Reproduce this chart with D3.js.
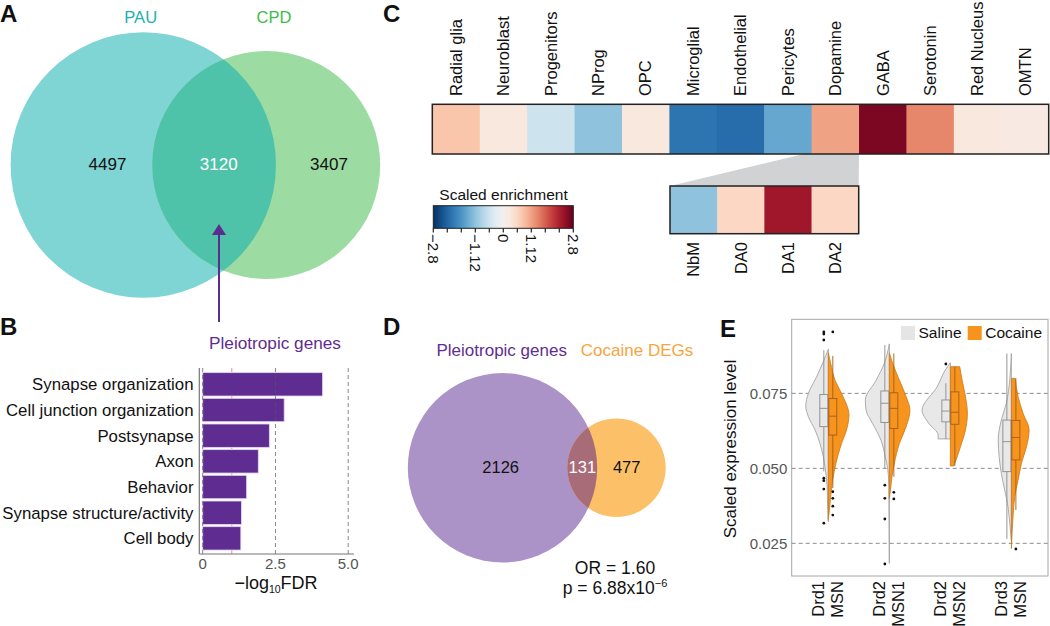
<!DOCTYPE html>
<html><head><meta charset="utf-8">
<script src="https://cdn.jsdelivr.net/npm/d3@7"></script>
<style>body{margin:0;background:#fff;} svg{display:block;font-family:"Liberation Sans",Arial,Helvetica,sans-serif;}</style>
</head><body><svg id="c" width="1050" height="626"></svg>
<script>
// ---------------- DATA ----------------
const vennASets = ["PAU", "CPD"];
const vennACounts = [4497, 3120, 3407];           // PAU only, both, CPD only
const arrowLabel = "Pleiotropic genes";

const goTerms = ["Synapse organization", "Cell junction organization", "Postsynapse", "Axon",
                 "Behavior", "Synapse structure/activity", "Cell body"];
const goValues = [4.12, 2.80, 2.29, 1.91, 1.51, 1.33, 1.31];
const goTicks = [0, 2.5, 5.0];
const goTickLabels = ["0", "2.5", "5.0"];
const fdrThreshold = 1.0;

const cellTypes = ["Radial glia", "Neuroblast", "Progenitors", "NProg", "OPC", "Microglial", "Endothelial",
                   "Pericytes", "Dopamine", "GABA", "Serotonin", "Red Nucleus", "OMTN"];
const enrichment = [0.78, 0.28, -0.56, -1.12, 0.28, -2.05, -2.15, -1.45, 1.12, 2.65, 1.36, 0.28, 0.22];
const daTypes = ["NbM", "DA0", "DA1", "DA2"];
const daEnrichment = [-1.12, 0.56, 2.35, 0.56];
const legendTickLabels = [-2.8, -1.12, 0, 1.12, 2.8];
const legendMinorTicks = [-2.8, -2.24, -1.68, -1.12, -0.56, 0, 0.56, 1.12, 1.68, 2.24, 2.8];

const vennDSets = ["Pleiotropic genes", "Cocaine DEGs"];
const vennDCounts = [2126, 131, 477];
const oddsRatio = "1.60";
const pMantissa = "6.88", pExp = "−6";

const msnGroups = [["Drd1", "MSN"], ["Drd2", "MSN1"], ["Drd2", "MSN2"], ["Drd3", "MSN"]];
const treatments = ["Saline", "Cocaine"];
const exprTicks = [0.025, 0.050, 0.075];
// violin outlines: [expression value, relative density]
const violinSaline = [
  [[0.0897,0],[0.0861,0.18],[0.0805,0.49],[0.0750,0.83],[0.0708,0.94],[0.0672,0.83],[0.0628,0.55],[0.0583,0.35],[0.0539,0.21],[0.0494,0.12],[0.0440,0.05],[0.0380,0.03],[0.0322,0]],
  [[0.0915,0],[0.0850,0.21],[0.0794,0.55],[0.0728,1.0],[0.0694,0.97],[0.0650,0.70],[0.0594,0.35],[0.0539,0.17],[0.0494,0.06],[0.0440,0.02],[0.0300,0.01],[0.0183,0]],
  [[0.0852,0],[0.0828,0.21],[0.0772,0.55],[0.0694,1.18],[0.0650,0.90],[0.0611,0.51],[0.0598,0.51]],
  [[0.0883,0],[0.0794,0.07],[0.0717,0.21],[0.0661,0.42],[0.0594,0.55],[0.0539,0.51],[0.0483,0.42],[0.0428,0.28],[0.0372,0.14],[0.0317,0.07],[0.0261,0]]
];
const violinCocaine = [
  [[0.0885,0],[0.0850,0.10],[0.0794,0.28],[0.0750,0.55],[0.0678,0.86],[0.0628,0.76],[0.0583,0.55],[0.0517,0.32],[0.0461,0.18],[0.0406,0.10],[0.0350,0.03],[0.0330,0]],
  [[0.0885,0],[0.0850,0.14],[0.0794,0.42],[0.0739,0.70],[0.0694,0.86],[0.0639,0.70],[0.0583,0.42],[0.0517,0.21],[0.0472,0.11],[0.0430,0.05],[0.0400,0]],
  [[0.0839,0.39],[0.0794,0.49],[0.0739,0.63],[0.0683,0.71],[0.0628,0.63],[0.0572,0.42],[0.0528,0.24],[0.0508,0.14]],
  [[0.0800,0.16],[0.0739,0.28],[0.0683,0.49],[0.0628,0.74],[0.0572,0.63],[0.0517,0.42],[0.0461,0.28],[0.0406,0.14],[0.0340,0.07],[0.0233,0]]
];
// boxes: [lower whisker, q1, median, q3, upper whisker]
const boxSaline = [[0.0490,0.0639,0.0700,0.0746,0.0894],[0.0500,0.0653,0.0717,0.0758,0.0911],[0.0598,0.0655,0.0691,0.0728,0.0784],[0.0265,0.0489,0.0589,0.0661,0.0883]];
const boxCocaine = [[0.0434,0.0611,0.0674,0.0733,0.0875],[0.0472,0.0633,0.0700,0.0752,0.0883],[0.0508,0.0647,0.0687,0.0755,0.0839],[0.0361,0.0528,0.0603,0.0660,0.0800]];
const outSaline = [[0.0955,0.0948,0.0928,0.0467,0.0459,0.0431,0.0317],[0.0444,0.0400,0.0331,0.0181],[0.0848],[]];
const outCocaine = [[0.0955,0.0422,0.0400,0.0374,0.0344],[0.0420,0.0398],[],[0.0231]];

// ---------------- DRAW ----------------
const svg = d3.select("#c");
const panelLetter = (t, x, y) => svg.append("text").attr("x", x).attr("y", y).text(t)
  .attr("font-size", 24).attr("font-weight", "bold").attr("fill", "#111");

// ===== Panel A =====
panelLetter("A", 0, 22);
const pau = {cx: 143.3, cy: 165, r: 132.7}, cpd = {cx: 266.2, cy: 165, r: 114};
const gA = svg.append("g");
gA.append("circle").attr("cx", pau.cx).attr("cy", pau.cy).attr("r", pau.r).attr("fill", "#7fd4d4");
gA.append("circle").attr("cx", cpd.cx).attr("cy", cpd.cy).attr("r", cpd.r).attr("fill", "#9cdba1");
svg.append("clipPath").attr("id", "clipPAU").append("circle").attr("cx", pau.cx).attr("cy", pau.cy).attr("r", pau.r);
gA.append("circle").attr("cx", cpd.cx).attr("cy", cpd.cy).attr("r", cpd.r).attr("fill", "#4fc3a9").attr("clip-path", "url(#clipPAU)");
gA.append("text").attr("x", 140.7).attr("y", 23).attr("text-anchor", "middle").attr("font-size", 16.5).attr("fill", "#22b0b0").text(vennASets[0]);
gA.append("text").attr("x", 274).attr("y", 23).attr("text-anchor", "middle").attr("font-size", 16.5).attr("fill", "#3dbb4b").text(vennASets[1]);
const aLab = [107.5, 218.7, 329];
vennACounts.forEach((v, i) => gA.append("text").attr("x", aLab[i]).attr("y", 169.5).attr("text-anchor", "middle")
  .attr("font-size", 17).attr("fill", i === 1 ? "#fff" : "#111").text(v));
// arrow
gA.append("line").attr("x1", 219).attr("x2", 219).attr("y1", 322).attr("y2", 233).attr("stroke", "#5b2d8e").attr("stroke-width", 2);
gA.append("path").attr("d", "M219,224 L226,235 L212,235 Z").attr("fill", "#5b2d8e");

// ===== Panel B =====
panelLetter("B", 0, 335);
const gB = svg.append("g");
gB.append("text").attr("x", 275).attr("y", 348.5).attr("text-anchor", "middle").attr("font-size", 17.2).attr("fill", "#5f2d91").text(arrowLabel);
const xB = d3.scaleLinear().domain([0, 5]).range([202.7, 348.2]);
const yB = d3.scaleBand().domain(goTerms).range([371.5, 551.2]).paddingInner(0.09).paddingOuter(0.045);
gB.append("line").attr("x1", xB(fdrThreshold)).attr("x2", xB(fdrThreshold)).attr("y1", 368).attr("y2", 554)
  .attr("stroke", "#f08a8a").attr("stroke-dasharray", "4,3").attr("stroke-width", 1);
gB.selectAll("rect.bar").data(goValues).enter().append("rect")
  .attr("x", xB(0)).attr("y", (d, i) => yB(goTerms[i])).attr("width", d => xB(d) - xB(0)).attr("height", yB.bandwidth())
  .attr("fill", "#5f2d91").attr("stroke", "#e2d6ee").attr("stroke-width", 0.8);
goTicks.forEach(t => gB.append("line").attr("x1", xB(t)).attr("x2", xB(t)).attr("y1", 368).attr("y2", 554)
  .attr("stroke", "#555").attr("stroke-opacity", 0.7).attr("stroke-dasharray", "4,3"));
gB.append("line").attr("x1", 199.3).attr("x2", 199.3).attr("y1", 368).attr("y2", 554).attr("stroke", "#777").attr("stroke-width", 1.2);
gB.append("line").attr("x1", 199.3).attr("x2", 354).attr("y1", 554).attr("y2", 554).attr("stroke", "#777").attr("stroke-width", 1.2);
goTerms.forEach(t => gB.append("text").attr("x", 193.5).attr("y", yB(t) + yB.bandwidth() / 2).attr("dy", "0.35em")
  .attr("text-anchor", "end").attr("font-size", 16.8).attr("fill", "#111").text(t));
goTicks.forEach((t, i) => gB.append("text").attr("x", xB(t)).attr("y", 568.5).attr("text-anchor", "middle")
  .attr("font-size", 15).attr("fill", "#555").text(goTickLabels[i]));
const tB = gB.append("text").attr("x", 276).attr("y", 588.5).attr("text-anchor", "middle").attr("font-size", 18).attr("fill", "#111");
tB.append("tspan").text("−log");
tB.append("tspan").attr("font-size", 10.5).attr("dy", 4).text("10");
tB.append("tspan").attr("dy", -4).text("FDR");

// ===== Panel C =====
panelLetter("C", 383, 22);
const gC = svg.append("g");
const col = v => d3.interpolateRdBu(0.5 - v / 5.6);
const xC = d3.scaleBand().domain(cellTypes).range([432.3, 1048.7]);
const hTop = 104.3, hBot = 154;
const xD = d3.scaleBand().domain(daTypes).range([670, 858.7]);
const sTop = 186, sBot = 233.7;
// wedge
gC.append("path").attr("d", `M${xC("Dopamine") - 8},${hBot} L${xC("Dopamine") + xC.bandwidth()},${hBot} L${xD.range()[1]},${sTop} L${xD.range()[0]},${sTop} Z`)
  .attr("fill", "#d1d2d4");
gC.selectAll("rect.cell").data(enrichment).enter().append("rect")
  .attr("x", (d, i) => xC(cellTypes[i])).attr("y", hTop).attr("width", xC.bandwidth() + 0.5).attr("height", hBot - hTop)
  .attr("fill", d => col(d));
gC.append("rect").attr("x", 432.3).attr("y", hTop).attr("width", 1048.7 - 432.3).attr("height", hBot - hTop)
  .attr("fill", "none").attr("stroke", "#222").attr("stroke-width", 1.5);
cellTypes.forEach(t => gC.append("text").attr("transform", `translate(${xC(t) + xC.bandwidth() / 2},96) rotate(-90)`)
  .attr("dy", "0.35em").attr("font-size", 16.5).attr("fill", "#111").text(t));
gC.selectAll("rect.sub").data(daEnrichment).enter().append("rect")
  .attr("x", (d, i) => xD(daTypes[i])).attr("y", sTop).attr("width", xD.bandwidth() + 0.5).attr("height", sBot - sTop)
  .attr("fill", d => col(d));
gC.append("rect").attr("x", 670).attr("y", sTop).attr("width", 858.7 - 670).attr("height", sBot - sTop)
  .attr("fill", "none").attr("stroke", "#222").attr("stroke-width", 1.5);
daTypes.forEach(t => gC.append("text").attr("transform", `translate(${xD(t) + xD.bandwidth() / 2},242) rotate(-90)`)
  .attr("dy", "0.35em").attr("text-anchor", "end").attr("font-size", 16.5).attr("fill", "#111").text(t));
// legend
const xL = d3.scaleLinear().domain([-2.8, 2.8]).range([433.3, 573.3]);
const grad = svg.append("defs").append("linearGradient").attr("id", "rdbu").attr("x1", "0%").attr("x2", "100%");
d3.range(0, 21).forEach(i => { const v = -2.8 + i * 0.28; grad.append("stop").attr("offset", (i * 5) + "%").attr("stop-color", col(v)); });
gC.append("text").attr("x", 503.5).attr("y", 199.5).attr("text-anchor", "middle").attr("font-size", 15.5).attr("fill", "#111").text("Scaled enrichment");
gC.append("rect").attr("x", 433.3).attr("y", 205.7).attr("width", 140).attr("height", 22.6).attr("fill", "url(#rdbu)")
  .attr("stroke", "#222").attr("stroke-width", 1);
legendMinorTicks.forEach(t => gC.append("line").attr("x1", xL(t)).attr("x2", xL(t)).attr("y1", 228.3).attr("y2", 232.5)
  .attr("stroke", "#222").attr("stroke-width", 1.2));
legendTickLabels.forEach(t => gC.append("text").attr("transform", `translate(${xL(t)},234) rotate(90)`)
  .attr("dy", "0.35em").attr("font-size", 15).attr("fill", "#111").text(t === 0 ? "0" : (t < 0 ? "−" + Math.abs(t) : t)));

// ===== Panel D =====
panelLetter("D", 383, 335);
const gD = svg.append("g");
const pl = {cx: 502.5, cy: 467.8, r: 94.7}, co = {cx: 616.5, cy: 467.8, r: 49.2};
gD.append("circle").attr("cx", pl.cx).attr("cy", pl.cy).attr("r", pl.r).attr("fill", "#ab93c7");
gD.append("circle").attr("cx", co.cx).attr("cy", co.cy).attr("r", co.r).attr("fill", "#fcc068");
svg.append("clipPath").attr("id", "clipPL").append("circle").attr("cx", pl.cx).attr("cy", pl.cy).attr("r", pl.r);
gD.append("circle").attr("cx", co.cx).attr("cy", co.cy).attr("r", co.r).attr("fill", "#a86c79").attr("clip-path", "url(#clipPL)");
gD.append("text").attr("x", 501.7).attr("y", 356).attr("text-anchor", "middle").attr("font-size", 17).attr("fill", "#5f2d91").text(vennDSets[0]);
gD.append("text").attr("x", 637).attr("y", 356).attr("text-anchor", "middle").attr("font-size", 17).attr("fill", "#f7a440").text(vennDSets[1]);
const dLab = [500.7, 582.3, 626.7];
vennDCounts.forEach((v, i) => gD.append("text").attr("x", dLab[i]).attr("y", 472.7).attr("text-anchor", "middle")
  .attr("font-size", 16.5).attr("fill", i === 1 ? "#fff" : "#111").text(v));
gD.append("text").attr("x", 615).attr("y", 573.5).attr("text-anchor", "middle").attr("font-size", 17.5).attr("fill", "#111").text("OR = " + oddsRatio);
const pT = gD.append("text").attr("x", 615).attr("y", 593.5).attr("text-anchor", "middle").attr("font-size", 17.5).attr("fill", "#111");
pT.append("tspan").text("p = " + pMantissa + "x10");
pT.append("tspan").attr("font-size", 11).attr("dy", -7).text(pExp);

// ===== Panel E =====
panelLetter("E", 720, 337);
const gE = svg.append("g");
const fL = 791.7, fR = 1048, fT = 319.3, fB = 576;
const yE = d3.scaleLinear().domain([0.0141, 0.0997]).range([fB, fT]);
const xE = d3.scalePoint().domain(msnGroups.map(g => g.join(" "))).range([fL, fR]).padding(0.6);
const wS = d3.scaleLinear().domain([0, 1]).range([0, 24]);
gE.append("rect").attr("x", fL).attr("y", fT).attr("width", fR - fL).attr("height", fB - fT).attr("fill", "none").attr("stroke", "#a6a6a6").attr("stroke-width", 1);
exprTicks.forEach(t => {
  gE.append("line").attr("x1", fL).attr("x2", fR).attr("y1", yE(t)).attr("y2", yE(t)).attr("stroke", "#8c8c8c").attr("stroke-dasharray", "4,3");
  gE.append("text").attr("x", 787.3).attr("y", yE(t)).attr("dy", "0.35em").attr("text-anchor", "end").attr("font-size", 15).attr("fill", "#555").text(t.toFixed(3));
});
const styles = [
  {fill: "#e8e8e8", stroke: "#9a9a9a", box: "#8a8a8a", side: -1},
  {fill: "#f7941d", stroke: "#c9791c", box: "#a35d1a", side: 1}
];
const violins = [violinSaline, violinCocaine], boxes = [boxSaline, boxCocaine], outs = [outSaline, outCocaine];
msnGroups.forEach((g, gi) => {
  const cx = xE(g.join(" "));
  [0, 1].forEach(ti => {
    const s = styles[ti];
    const area = d3.area().y(d => yE(d[0])).x0(cx).x1(d => cx + s.side * wS(d[1])).curve(d3.curveMonotoneY);
    gE.append("path").attr("d", area(violins[ti][gi])).attr("fill", s.fill).attr("stroke", s.stroke).attr("stroke-width", 0.8);
  });
  [0, 1].forEach(ti => {
    const s = styles[ti], b = boxes[ti][gi];
    const bx = cx + s.side * 4.5;
    gE.append("line").attr("x1", bx).attr("x2", bx).attr("y1", yE(b[0])).attr("y2", yE(b[4])).attr("stroke", s.box).attr("stroke-width", 0.9);
    gE.append("rect").attr("x", bx - 4).attr("y", yE(b[3])).attr("width", 8).attr("height", yE(b[1]) - yE(b[3]))
      .attr("fill", s.fill).attr("stroke", s.box).attr("stroke-width", 0.9);
    gE.append("line").attr("x1", bx - 4).attr("x2", bx + 4).attr("y1", yE(b[2])).attr("y2", yE(b[2])).attr("stroke", s.box).attr("stroke-width", 0.9);
    outs[ti][gi].forEach(o => gE.append("circle").attr("cx", bx).attr("cy", yE(o)).attr("r", 1.4).attr("fill", "#111"));
  });
  gE.append("text").attr("transform", `translate(${cx - 10.5},581) rotate(-90)`).attr("dy", "0.35em").attr("text-anchor", "end")
    .attr("font-size", 16.5).attr("fill", "#111").text(g[0]);
  gE.append("text").attr("transform", `translate(${cx + 8.5},581) rotate(-90)`).attr("dy", "0.35em").attr("text-anchor", "end")
    .attr("font-size", 16.5).attr("fill", "#111").text(g[1]);
});
gE.append("text").attr("transform", "translate(730,449) rotate(-90)").attr("dy", "0.35em").attr("text-anchor", "middle")
  .attr("font-size", 17).attr("fill", "#111").text("Scaled expression level");
// legend
const legX = [901, 967.7];
treatments.forEach((t, i) => {
  gE.append("rect").attr("x", legX[i]).attr("y", 326).attr("width", 14).attr("height", 14).attr("fill", i === 0 ? "#e5e5e5" : "#f7941d");
  gE.append("text").attr("x", legX[i] + 17.5).attr("y", 333).attr("dy", "0.35em").attr("font-size", 15.5).attr("fill", "#111").text(t);
});
</script></body></html>
